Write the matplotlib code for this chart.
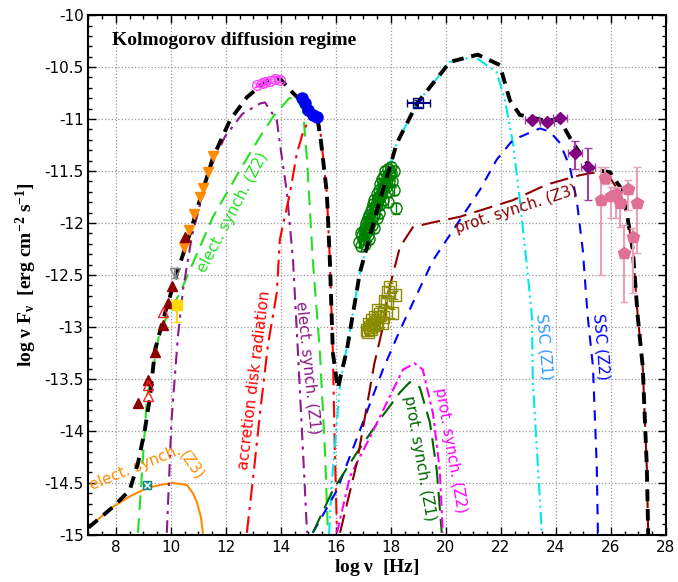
import matplotlib
matplotlib.use('Agg')
import matplotlib.pyplot as plt
from matplotlib.ticker import MultipleLocator

plt.rcParams['mathtext.fontset'] = 'custom'
plt.rcParams['mathtext.rm'] = 'Liberation Serif:bold'
plt.rcParams['mathtext.it'] = 'Liberation Serif:bold'
plt.rcParams['mathtext.bf'] = 'Liberation Serif:bold'

# --- model curves (log nu, log nuFnu) ---
tot_x = [7.0, 7.9, 8.5, 8.8, 9.05, 9.24, 9.42, 9.8, 10.22, 10.69, 11.05, 11.53, 12.15, 12.76, 13.49,
         13.96, 14.44, 14.8, 15.16, 15.35, 15.45, 15.67, 15.78, 15.89, 16.07, 16.4, 16.87, 17.6,
         18.22, 18.95, 20.15, 21.16, 21.96, 22.33, 22.69, 23.53, 24.15, 24.62, 25.13, 25.42, 25.96,
         26.33, 26.58, 26.8, 26.98, 27.16, 27.31, 27.36]
tot_y = [-14.93, -14.73, -14.57, -14.31, -13.99, -13.67, -13.22, -12.85, -12.48, -12.10, -11.78,
         -11.37, -11.01, -10.79, -10.63, -10.61, -10.75, -10.84, -10.94, -11.03, -11.2, -11.71,
         -12.36, -13.25, -13.59, -13.22, -12.48, -11.78, -11.23, -10.85, -10.45, -10.38, -10.48,
         -10.82, -10.96, -11.01, -11.01, -11.23, -11.42, -11.49, -11.51, -11.65, -11.90, -12.26,
         -12.90, -13.38, -14.35, -15.0]

esz3_x = [7.0, 7.89, 8.5, 9.13, 9.6, 10.07, 10.58, 10.8, 10.95, 11.09, 11.16]
esz3_y = [-14.93, -14.73, -14.63, -14.55, -14.52, -14.50, -14.52, -14.6, -14.69, -14.83, -14.98]

esz2_x = [8.8, 9.13, 9.42, 9.6, 10.33, 11.53, 12.51, 13.24, 13.71, 14.3, 14.55, 14.8, 14.95,
          15.16, 15.42, 15.6, 15.71]
esz2_y = [-14.98, -13.67, -13.30, -13.03, -12.67, -11.94, -11.49, -11.17, -10.98, -10.8, -10.79,
          -10.91, -11.39, -12.36, -13.25, -14.18, -14.98]

esz1_x = [9.85, 10.02, 10.25, 10.44, 10.76, 11.35, 11.96, 12.6, 13.24, 13.42, 13.85, 13.96,
          14.22, 14.44, 14.62, 14.8, 14.95]
esz1_y = [-14.98, -13.9, -13.1, -12.64, -12.13, -11.52, -11.17, -10.95, -10.85, -10.84, -11.01,
          -11.23, -11.71, -12.36, -13.25, -14.18, -14.98]

disk_x = [12.76, 12.98, 13.24, 13.53, 13.85, 13.96, 14.33, 14.58, 14.8, 14.98, 15.16, 15.35,
          15.42, 15.67, 15.78, 15.89, 15.96, 16.04]
disk_y = [-14.98, -14.47, -13.83, -13.17, -12.67, -12.16, -11.71, -11.33, -11.13, -11.03, -10.98,
          -11.03, -11.08, -11.71, -12.36, -13.25, -14.18, -14.98]

ssc1_x = [15.75, 15.85, 16.15, 16.5, 16.87, 17.6, 18.22, 18.95, 20.15, 21.05, 21.85, 22.15,
          22.44, 22.69, 22.95, 23.13, 23.16, 23.35, 23.49]
ssc1_y = [-15.0, -14.5, -13.55, -13.05, -12.48, -11.78, -11.23, -10.85, -10.45, -10.40, -10.55,
          -10.82, -11.23, -11.78, -12.42, -12.9, -13.51, -14.35, -14.98]

ssc2_x = [15.16, 16.04, 16.98, 17.71, 18.33, 19.53, 20.51, 21.24, 21.85, 22.44, 23.42, 23.78,
          24.15, 24.51, 24.76, 24.98, 25.16, 25.35, 25.49, 25.53]
ssc2_y = [-14.98, -14.57, -13.92, -13.41, -13.03, -12.36, -11.97, -11.68, -11.39, -11.2, -11.09,
          -11.12, -11.23, -11.46, -11.78, -12.26, -12.90, -13.38, -14.35, -14.98]

psz1_x = [15.16, 15.89, 16.76, 17.6, 18.33, 18.69, 19.05, 19.42, 19.67, 19.85]
psz1_y = [-14.98, -14.57, -14.21, -13.89, -13.63, -13.53, -13.58, -13.92, -14.38, -14.98]

psz2_x = [16.04, 16.51, 17.24, 17.96, 18.44, 18.87, 19.16, 19.53, 19.78, 19.89]
psz2_y = [-14.98, -14.44, -14.06, -13.67, -13.41, -13.35, -13.41, -13.83, -14.38, -14.98]

psz3_x = [16.15, 16.76, 17.1, 17.4, 17.71, 17.9, 18.33, 18.8, 19.42, 20.51, 22.44, 23.67,
          24.87, 25.49, 25.96, 26.33, 26.58, 26.8, 26.98, 27.16, 27.31, 27.36]
psz3_y = [-14.98, -14.31, -13.8, -13.35, -13.0, -12.67, -12.23, -12.04, -12.0, -11.94, -11.78,
          -11.63, -11.54, -11.51, -11.56, -11.71, -11.90, -12.26, -12.90, -13.38, -14.35, -15.0]

# --- data points ---
orng_x = [10.47, 10.65, 10.84, 11.05, 11.16, 11.35, 11.53]
orng_y = [-12.23, -12.07, -11.91, -11.75, -11.66, -11.51, -11.36]
mrn_x = [8.8, 9.16, 9.42, 9.71, 9.89, 10.04, 10.51]
mrn_y = [-13.73, -13.51, -13.24, -12.98, -12.77, -12.61, -12.13]
rtri_x = [9.16, 9.16, 9.71]
rtri_y = [-13.66, -13.56, -12.86]
gray_x = [10.15]
gray_y = [-12.48]
yel_x = [10.22]
yel_y = [-12.79]
teal_x = [9.13]
teal_y = [-14.52]
mcirc_x = [13.13, 13.3, 13.42, 13.6, 13.8, 13.95]
mcirc_y = [-10.67, -10.65, -10.64, -10.63, -10.61, -10.62]
bcirc_x = [14.76, 14.87, 14.98, 15.16, 15.31]
bcirc_y = [-10.80, -10.85, -10.91, -10.96, -10.98]
navy_x = [19.0]
navy_y = [-10.85]
gcirc_x = [16.85, 16.9, 16.95, 17.0, 17.05, 17.05, 17.1, 17.12, 17.18, 17.2, 17.25, 17.28, 17.3,
           17.35, 17.38, 17.4, 17.45, 17.48, 17.5, 17.55, 17.58, 17.6, 17.65, 17.68, 17.7, 17.75,
           17.78, 17.8, 17.85, 17.9, 17.95, 18.0, 18.05, 18.1, 17.4, 17.2, 17.9, 18.2,
           16.92, 17.02, 17.08, 17.15, 17.22, 17.32, 17.42, 17.52, 17.62, 17.72, 17.82, 17.92,
           18.02, 17.3, 17.5, 17.7, 17.15, 17.6, 17.85, 18.12]
gcirc_y = [-12.18, -12.22, -12.12, -12.15, -12.05, -12.2, -12.1, -11.98, -12.05, -11.92, -12.0,
           -11.88, -11.95, -11.82, -11.92, -11.78, -11.85, -11.72, -11.8, -11.68, -11.9, -11.62,
           -11.72, -11.58, -11.66, -11.55, -11.62, -11.5, -11.58, -11.48, -11.54, -11.46, -11.6,
           -11.5, -12.05, -12.15, -11.8, -11.86,
           -12.1, -12.08, -12.0, -11.95, -11.98, -11.86, -11.86, -11.75, -11.75, -11.62, -11.65,
           -11.6, -11.52, -12.02, -11.95, -11.78, -12.12, -11.82, -11.7, -11.68]
olv_x = [17.13, 17.2, 17.24, 17.3, 17.35, 17.42, 17.48, 17.53, 17.6, 17.67, 17.71, 17.8, 17.85,
         17.89, 17.95, 18.04, 18.15, 17.18, 17.28, 17.4]
olv_y = [-13.03, -12.97, -13.0, -12.93, -12.98, -12.9, -12.95, -12.84, -12.88, -12.96, -12.9,
         -12.75, -12.76, -12.66, -12.62, -12.87, -12.69, -13.05, -13.02, -12.98]
dia_x = [23.13, 23.67, 24.15, 24.69, 25.16]
dia_y = [-11.01, -11.03, -10.99, -11.33, -11.46]
dia_lo = [0.02, 0.02, 0.02, 0.15, 0.32]
dia_hi = [0.02, 0.02, 0.02, 0.12, 0.18]
pink_x = [25.78, 25.66, 26.02, 26.2, 26.33, 26.63, 26.97, 26.81, 26.48]
pink_y = [-11.57, -11.78, -11.74, -11.72, -11.81, -11.67, -11.81, -12.13, -12.29]
pink_lo = [0.05, 0.72, 0.21, 0.23, 0.23, 0.20, 0.48, 0.54, 0.47]
pink_hi = [0.11, 0.32, 0.09, 0.06, 0.16, 0.08, 0.35, 0.08, 0.27]

fig = plt.figure(figsize=(6.78, 5.82), dpi=100)
ax = fig.add_axes([0.1305, 0.081, 0.8515, 0.893])

lw = 1.5
ax.plot(esz3_x, esz3_y, color='#ff8c00', lw=lw, ls='-')
ax.plot(esz2_x, esz2_y, color='#22e022', lw=lw, ls=(0, (7, 4)))
ax.plot(esz1_x, esz1_y, color='#8b1a8b', lw=lw, ls=(0, (6, 3, 1.5, 3)))
ax.plot(disk_x, disk_y, color='#ff0000', lw=lw, ls=(0, (8, 3, 1.5, 3)))
ax.plot(ssc1_x, ssc1_y, color='#00e8e8', lw=lw, ls=(0, (6, 2, 1, 2, 1, 2)))
ax.plot(ssc2_x, ssc2_y, color='#0000ff', lw=lw, ls=(0, (5, 4)))
ax.plot(psz1_x, psz1_y, color='#006400', lw=lw, ls=(0, (9, 4)))
ax.plot(psz2_x, psz2_y, color='#ff00ff', lw=lw, ls=(0, (5, 2, 1.5, 2)))
ax.plot(psz3_x, psz3_y, color='#8b0000', lw=lw, ls=(0, (9, 4)))
ax.plot(tot_x, tot_y, color='black', lw=2.8, ls=(0, (3, 2)), zorder=5)

# data
ax.plot(orng_x, orng_y, 'v', color='#ff8c00', ms=7, zorder=6)
ax.plot(mrn_x, mrn_y, '^', color='#8b0000', ms=7, zorder=6)
ax.plot(rtri_x, rtri_y, '^', mfc='none', mec='#ff2020', ms=7, zorder=6)
ax.errorbar(gray_x, gray_y, yerr=0.05, fmt='v', mfc='none', mec='#888888', ecolor='#888888',
            ms=7, capsize=3, zorder=6)
ax.errorbar(yel_x, yel_y, yerr=[[0.16], [0.05]], fmt='s', color='#ffd700', ms=7, capsize=3, zorder=6)
ax.plot(teal_x, teal_y, 's', mfc='#20a0a0', mec='#208080', ms=6, zorder=6)
ax.plot(teal_x, teal_y, 'x', color='white', ms=4, mew=1, zorder=7)
ax.errorbar(mcirc_x, mcirc_y, yerr=0.02, fmt='o', mfc='none', mec='#ff44ff', ecolor='#ff44ff',
            ms=7, capsize=2, zorder=6)
ax.plot(bcirc_x, bcirc_y, 'o', color='#0000ee', ms=8, zorder=6)
ax.errorbar(navy_x, navy_y, xerr=0.43, yerr=0.03, fmt='s', mfc='none', mec='#000080',
            ecolor='#000080', ms=7, capsize=3, zorder=6)
ax.errorbar(gcirc_x, gcirc_y, yerr=0.05, fmt='o', mfc='none', mec='#008000', ecolor='#008000',
            ms=8, capsize=3, lw=1, zorder=4)
ax.errorbar(olv_x, olv_y, yerr=0.04, fmt='s', mfc='none', mec='#8b8b00', ecolor='#8b8b00',
            ms=9, capsize=2, lw=1, zorder=4)
ax.errorbar(dia_x, dia_y, xerr=0.25, yerr=[dia_lo, dia_hi], fmt='D', color='#800080',
            ecolor='#a040a0', ms=6, capsize=3, zorder=6)
ax.errorbar(pink_x, pink_y, yerr=[pink_lo, pink_hi], fmt='p', color='#e07098',
            ecolor='#eaa0b8', ms=9, capsize=3, zorder=6)

# labels on curves
ax.text(7.85, -10.24, 'Kolmogorov diffusion regime', family='Liberation Serif', weight='bold',
        fontsize=14, va='center', ha='left')
ax.text(12.26, -11.9, 'elect. synch. (Z2)', color='#22e022', rotation=62, fontsize=11,
        ha='center', va='center', rotation_mode='anchor')
ax.text(13.05, -13.51, 'accretion disk radiation', color='#ff0000', rotation=83, fontsize=11,
        ha='center', va='center', rotation_mode='anchor')
ax.text(14.95, -13.39, 'elect. synch. (Z1)', color='#8b1a8b', rotation=-84, fontsize=11,
        ha='center', va='center', rotation_mode='anchor')
ax.text(8.69, -14.36, 'elect. synch.', color='#ff8c00', rotation=22, fontsize=11,
        ha='center', va='center', rotation_mode='anchor')
ax.text(10.76, -14.33, '(Z3)', color='#ff8c00', rotation=-55, fontsize=11,
        ha='center', va='center', rotation_mode='anchor')
ax.text(23.56, -13.19, 'SSC (Z1)', color='#3399ff', rotation=-85, fontsize=11,
        ha='center', va='center', rotation_mode='anchor')
ax.text(25.64, -13.19, 'SSC (Z2)', color='#0000ff', rotation=-85, fontsize=11,
        ha='center', va='center', rotation_mode='anchor')
ax.text(19.02, -14.26, 'prot. synch. (Z1)', color='#006400', rotation=-80, fontsize=11,
        ha='center', va='center', rotation_mode='anchor')
ax.text(20.18, -14.19, 'prot. synch. (Z2)', color='#ff00ff', rotation=-80, fontsize=11,
        ha='center', va='center', rotation_mode='anchor')
ax.text(22.55, -11.87, 'prot. synch. (Z3)', color='#8b0000', rotation=18, fontsize=11,
        ha='center', va='center', rotation_mode='anchor')

ax.set_xlim(7, 28)
ax.set_ylim(-15, -10)
ax.xaxis.set_major_locator(MultipleLocator(2))
ax.xaxis.set_minor_locator(MultipleLocator(0.5))
ax.yaxis.set_major_locator(MultipleLocator(0.5))
ax.yaxis.set_minor_locator(MultipleLocator(0.1))
ax.yaxis.set_major_formatter(plt.FuncFormatter(lambda v, p: ('%g' % v)))
ax.tick_params(which='both', direction='in', top=True, right=True, labelsize=11)
ax.tick_params(which='major', length=6, width=1)
ax.tick_params(which='minor', length=3, width=1)
ax.grid(which='major', ls=':', color='#999999', lw=0.9)
for s in ax.spines.values():
    s.set_linewidth(1.5)

ax.set_xlabel(r'log $\nu$  [Hz]', family='Liberation Serif', weight='bold', fontsize=14, labelpad=2)
ax.set_ylabel(r'log $\nu$ F$_{\nu}$  [erg cm$^{-2}$ s$^{-1}$]', family='Liberation Serif',
              weight='bold', fontsize=14, labelpad=4)

fig.savefig('out.png', dpi=100)
